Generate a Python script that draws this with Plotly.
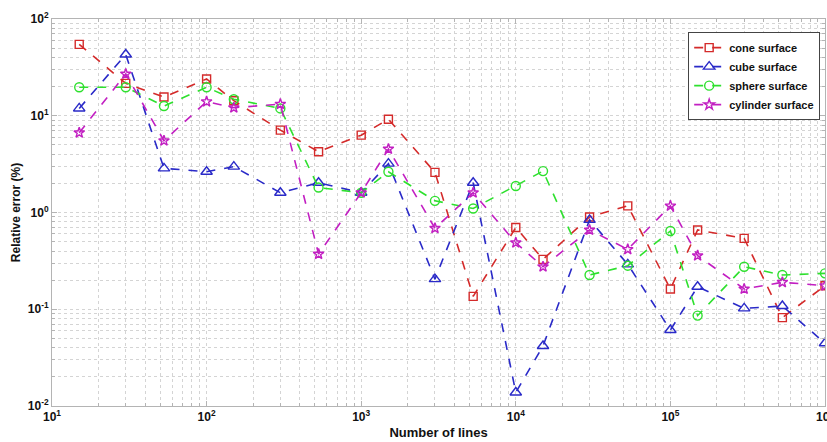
import plotly.graph_objects as go

# Number of lines used in each experiment
n_lines = [15, 30, 53, 100, 150, 300, 530, 1000, 1500, 3000, 5300, 10000,
           15000, 30000, 53000, 100000, 150000, 300000, 530000, 1000000]

# Relative error (%) per surface type
cone_err = [54.7, 21.6, 15.6, 24.0, 14.3, 7.1, 4.25, 6.3, 9.2, 2.6, 0.136, 0.70,
            0.328, 0.90, 1.17, 0.162, 0.66, 0.54, 0.082, 0.175]
cube_err = [11.9, 43.0, 2.86, 2.64, 2.98, 1.60, 2.03, 1.60, 3.2, 0.205, 2.03, 0.0138,
            0.0417, 0.84, 0.291, 0.061, 0.171, 0.102, 0.108, 0.0445]
sphere_err = [19.7, 19.7, 12.6, 19.7, 14.8, 11.9, 1.81, 1.60, 2.64, 1.32, 1.10, 1.88,
              2.68, 0.226, 0.282, 0.644, 0.086, 0.275, 0.226, 0.235]
cylinder_err = [6.68, 27.0, 5.52, 14.0, 12.1, 13.2, 0.372, 1.60, 4.53, 0.687, 1.60, 0.487,
                0.275, 0.66, 0.416, 1.17, 0.358, 0.162, 0.19, 0.175]

x_decades = [1, 2, 3, 4, 5, 6]
y_decades = [-2, -1, 0, 1, 2]

series = [
    ("cone surface", cone_err, "#d42a2a", "square-open", 8),
    ("cube surface", cube_err, "#2a2ac8", "triangle-up-open", 10),
    ("sphere surface", sphere_err, "#2ee02e", "circle-open", 9),
    ("cylinder surface", cylinder_err, "#c21fc2", "star-open", 8),
]

fig = go.Figure()
for name, vals, color, symbol, size in series:
    fig.add_trace(go.Scatter(
        x=n_lines, y=vals, name=name, mode="lines+markers",
        line=dict(color=color, width=1.6, dash="dash"),
        marker=dict(symbol=symbol, size=size, color=color,
                    line=dict(color=color, width=1.4)),
    ))


def minor_vals(decades):
    vals = []
    for d in decades[:-1]:
        for m in range(2, 10):
            vals.append(m * 10 ** d)
    return vals


def tick_text(decades):
    return ["<b>10<sup>%d</sup></b>" % d for d in decades]


grid = "#d4d4d4"
axis_common = dict(
    type="log", showline=True, linecolor="#b4b4b4", linewidth=1, mirror="ticks",
    ticks="inside", ticklen=5, tickcolor="#b4b4b4",
    showgrid=True, gridcolor=grid, griddash="dot", gridwidth=1,
    zeroline=False, ticklabeloverflow="allow", automargin=False,
    tickfont=dict(family="Liberation Sans, Arial", size=12, color="#111"),
)

fig.update_xaxes(
    **axis_common,
    range=[1, 6],
    tickmode="array",
    tickvals=[10 ** d for d in x_decades],
    ticktext=tick_text(x_decades),
    minor=dict(tickmode="array", tickvals=minor_vals(x_decades), showgrid=True,
               gridcolor=grid, griddash="dot", ticks="inside", ticklen=3,
               tickcolor="#b4b4b4"),
    title=dict(text="<b>Number of lines</b>", standoff=4,
               font=dict(family="Liberation Sans, Arial", size=13, color="#111")),
)
fig.update_yaxes(
    **axis_common,
    range=[-2, 2],
    tickmode="array",
    tickvals=[10 ** d for d in y_decades],
    ticktext=tick_text(y_decades),
    minor=dict(tickmode="array", tickvals=minor_vals(y_decades), showgrid=True,
               gridcolor=grid, griddash="dot", ticks="inside", ticklen=3,
               tickcolor="#b4b4b4"),
    title=dict(text="<b>Relative error (%)</b>", standoff=4,
               font=dict(family="Liberation Sans, Arial", size=12, color="#111")),
)

fig.update_layout(
    width=827, height=442,
    margin=dict(l=52, r=2, t=19, b=36),
    paper_bgcolor="white", plot_bgcolor="white",
    showlegend=True,
    legend=dict(
        x=0.823, y=0.966, xanchor="left", yanchor="top",
        bgcolor="white", bordercolor="#444", borderwidth=1,
        font=dict(family="Liberation Sans, Arial", size=11, color="#111",
                  weight="bold"),
        tracegroupgap=0, itemwidth=30,
    ),
    font=dict(family="Liberation Sans, Arial"),
)

fig.write_html("out.html")
